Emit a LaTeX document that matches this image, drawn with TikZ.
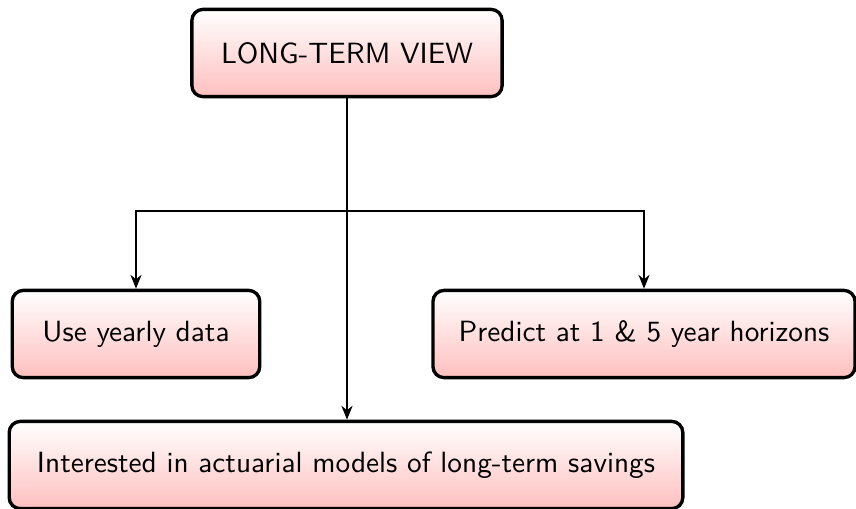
\documentclass[tikz,border=0pt]{standalone}
\usetikzlibrary{arrows.meta}
\renewcommand{\familydefault}{\sfdefault}

\begin{document}
\begin{tikzpicture}[x=0.0126cm, y=-0.0126cm,
    box/.style={draw, very thick, rounded corners=4pt, top color=white, bottom color=red!25,
                minimum height=1.1cm, align=center, font=\fontsize{10.5pt}{12pt}\selectfont},
    link/.style={semithick, -{Stealth[length=5pt,width=4pt]}}]
    \useasboundingbox (0,0) rectangle (856,508);

    \node[box, minimum width=3.91cm] (view) at (347,53) {LONG-TERM VIEW};
    \node[box, minimum width=3.12cm] (yearly) at (136,334) {Use yearly data};
    \node[box, minimum width=5.32cm] (horizon) at (644,334) {Predict at 1 \& 5 year horizons};
    \node[box, minimum width=8.49cm] (goal) at (346,465) {Interested in actuarial models of long-term savings};

    \coordinate (split) at (view.south |- 0,211);

    \draw[link] (view.south) -- (goal.north -| view.south);
    \draw[link] (split) -| (yearly.north);
    \draw[link] (split) -| (horizon.north);
  \end{tikzpicture}
\end{document}
